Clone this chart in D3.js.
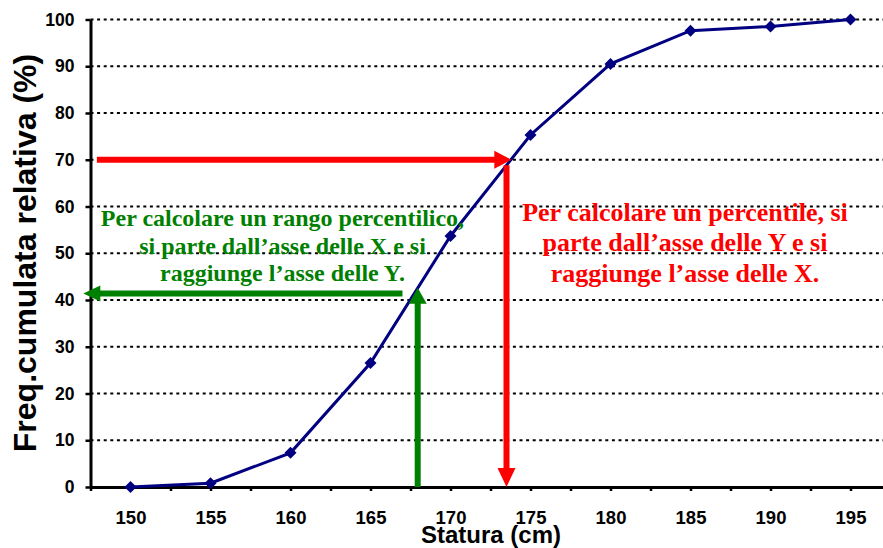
<!DOCTYPE html>
<html><head><meta charset="utf-8">
<script src="https://cdn.jsdelivr.net/npm/d3@7"></script>
<style>body{margin:0;background:#fff}svg{display:block}</style>
</head><body><svg id="c" width="883" height="548"></svg>
<script>
// ---- data ----
const statura = [150, 155, 160, 165, 170, 175, 180, 185, 190, 195];
const freqCum = [0, 0.8, 7.3, 26.5, 53.7, 75.3, 90.5, 97.6, 98.5, 100];
const yTicks = [0, 10, 20, 30, 40, 50, 60, 70, 80, 90, 100];
const xMinorTicks = d3.range(147.5, 197.6, 2.5);
// arrows: percentile (from Y=70 to X≈173.5), percentile rank (from X=168 to Y≈41.4)
const percentileY = 70, percentileX = 173.5;
const rankX = 167.95, rankY = 41.4;
const greenLines = ["Per calcolare un rango percentilico,", "si parte dall\u2019asse delle X e si", "raggiunge l\u2019asse delle Y."];
const redLines = ["Per calcolare un percentile, si", "parte dall\u2019asse delle Y e si", "raggiunge l\u2019asse delle X."];
const xTitle = "Statura (cm)";
const yTitle = "Freq.cumulata relativa (%)";

const svg = d3.select("#c");
const x = d3.scaleLinear().domain([147.5, 197.5]).range([90.5, 890.5]);
const y = d3.scaleLinear().domain([0, 100]).range([487, 19.5]);
const sans = "'Liberation Sans', Arial, sans-serif";
const serif = "'Liberation Serif', 'Times New Roman', serif";

// gridlines
svg.append("g").selectAll("line").data(yTicks.filter(d => d > 0)).join("line")
  .attr("x1", x(147.5)).attr("x2", 883)
  .attr("y1", d => y(d)).attr("y2", d => y(d))
  .attr("stroke", "#000").attr("stroke-width", 2).attr("stroke-dasharray", "3,3.6");

// y axis
const gy = svg.append("g").attr("transform", `translate(${x(147.5)},0)`)
  .call(d3.axisLeft(y).tickValues(yTicks).tickSize(5).tickSizeOuter(0).tickPadding(11));
gy.select(".domain").attr("stroke-width", 3);
gy.selectAll(".tick line").attr("stroke-width", 2.5);
gy.selectAll("text").attr("font-family", sans).attr("font-weight", "bold").attr("font-size", 17.5).attr("fill", "#000");

// x axis
const gx = svg.append("g").attr("transform", `translate(0,${y(0)})`)
  .call(d3.axisBottom(x).tickValues(xMinorTicks).tickSize(4).tickSizeOuter(0).tickPadding(19.5)
    .tickFormat(d => statura.includes(d) ? d : ""));
gx.select(".domain").attr("stroke-width", 3);
gx.selectAll(".tick line").attr("stroke-width", 2.5);
gx.selectAll("text").attr("font-family", sans).attr("font-weight", "bold").attr("font-size", 18.5).attr("fill", "#000");

// titles
svg.append("text").attr("x", 491).attr("y", 543).attr("text-anchor", "middle")
  .attr("font-family", sans).attr("font-weight", "bold").attr("font-size", 24).text(xTitle);
svg.append("text").attr("transform", "translate(36,253) rotate(-90)").attr("text-anchor", "middle")
  .attr("font-family", sans).attr("font-weight", "bold").attr("font-size", 32).text(yTitle);

// data line
const pts = statura.map((s, i) => [s, freqCum[i]]);
svg.append("path").datum(pts)
  .attr("d", d3.line().x(d => x(d[0])).y(d => y(d[1])))
  .attr("fill", "none").attr("stroke", "#000080").attr("stroke-width", 3);
svg.append("g").selectAll("path").data(pts).join("path")
  .attr("transform", d => `translate(${x(d[0])},${y(d[1])})`)
  .attr("d", "M0,-6L6,0L0,6L-6,0Z").attr("fill", "#000080");

// arrows
function arrow(x1, y1, x2, y2, color, w, hl, hw) {
  const dx = x2 - x1, dy = y2 - y1, L = Math.hypot(dx, dy);
  const ux = dx / L, uy = dy / L;
  const bx = x2 - ux * hl, by = y2 - uy * hl;
  svg.append("line").attr("x1", x1).attr("y1", y1).attr("x2", bx + ux).attr("y2", by + uy)
    .attr("stroke", color).attr("stroke-width", w);
  svg.append("path").attr("d", `M${x2},${y2}L${bx - uy * hw},${by + ux * hw}L${bx + uy * hw},${by - ux * hw}Z`)
    .attr("fill", color);
}
const red = "#ff0000", green = "#008000";
arrow(x(147.9), y(percentileY), x(173.8), y(percentileY), red, 6, 17, 9);
arrow(x(percentileX), y(68.8), x(percentileX), y(0), red, 6, 19, 9);
arrow(x(rankX), y(0), x(rankX), y(42.6), green, 6, 16, 9);
arrow(x(167), y(rankY), x(147.05), y(rankY), green, 6, 17, 8);

// annotation texts
svg.append("g").selectAll("text").data(greenLines).join("text")
  .attr("x", 282.5).attr("y", (d, i) => 226 + i * 27.7).attr("text-anchor", "middle")
  .attr("font-family", serif).attr("font-weight", "bold").attr("font-size", 24).attr("fill", green).text(d => d);
svg.append("g").selectAll("text").data(redLines).join("text")
  .attr("x", 685).attr("y", (d, i) => 220.7 + i * 30.5).attr("text-anchor", "middle")
  .attr("font-family", serif).attr("font-weight", "bold").attr("font-size", 26).attr("fill", red).text(d => d);
</script></body></html>
